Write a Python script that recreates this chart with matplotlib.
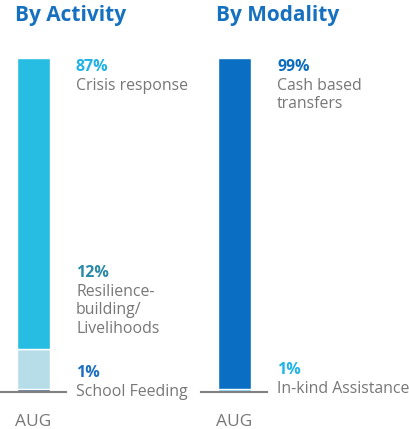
import matplotlib
matplotlib.use("Agg")
import matplotlib.pyplot as plt

plt.rcParams['font.family'] = ['Open Sans', 'DejaVu Sans']

# data
month = "AUG"
act_labels = ["School Feeding", "Resilience-\nbuilding/\nLivelihoods", "Crisis response"]
act_values = [1, 12, 87]
act_colors = ["#2b4a7a", "#b7dde9", "#27bde3"]
act_pct_colors = ["#1d6fc2", "#2c8aa9", "#1fb2e6"]

mod_labels = ["In-kind Assistance", "Cash based\ntransfers"]
mod_values = [1, 99]
mod_colors = ["#5cc3ea", "#0a6fc2"]
mod_pct_colors = ["#23b4e8", "#0c6dbf"]

W, H = 409, 429
fig = plt.figure(figsize=(W / 100, H / 100), dpi=100)

gray = "#777777"
title_col = "#1670c0"

def px_y(p):                    # pixel row -> axes data (0..100)
    return (392 - p) / 3.34

def panel(x0, title, values, colors, labels, pct_colors, label_rows):
    ax = fig.add_axes([x0 / W, (H - 392) / H, 205 / W, 334 / H])
    ax.set_xlim(0, 205)
    ax.set_ylim(0, 100)
    ax.axis('off')
    bottom = 0
    for v, c in zip(values, colors):
        ax.bar(33.5, v, bottom=bottom, width=33, color=c,
               edgecolor='white', linewidth=1.0)
        bottom += v
    ax.plot([0, 66], [0, 0], color="#808080", lw=1.5, clip_on=False)
    for v, lab, pc, row in zip(values, labels, pct_colors, label_rows):
        ax.text(76, px_y(row), f"{v}%", color=pc, fontsize=11.5,
                fontweight='bold', va='top', ha='left')
        ax.text(76, px_y(row + 19), lab, color=gray, fontsize=11.4,
                va='top', ha='left', linespacing=1.2)
    ax.text(33.5, px_y(422), month, color=gray, fontsize=12.5,
            ha='center', va='center', clip_on=False)
    ax.text(15, px_y(15.5), title, color=title_col, fontsize=15,
            fontweight='bold', ha='left', va='center', clip_on=False)

panel(0, "By Activity", act_values, act_colors, act_labels,
      act_pct_colors, [365, 265, 59])
panel(201, "By Modality", mod_values, mod_colors, mod_labels,
      mod_pct_colors, [362, 59])

fig.savefig("out.png", dpi=100)
